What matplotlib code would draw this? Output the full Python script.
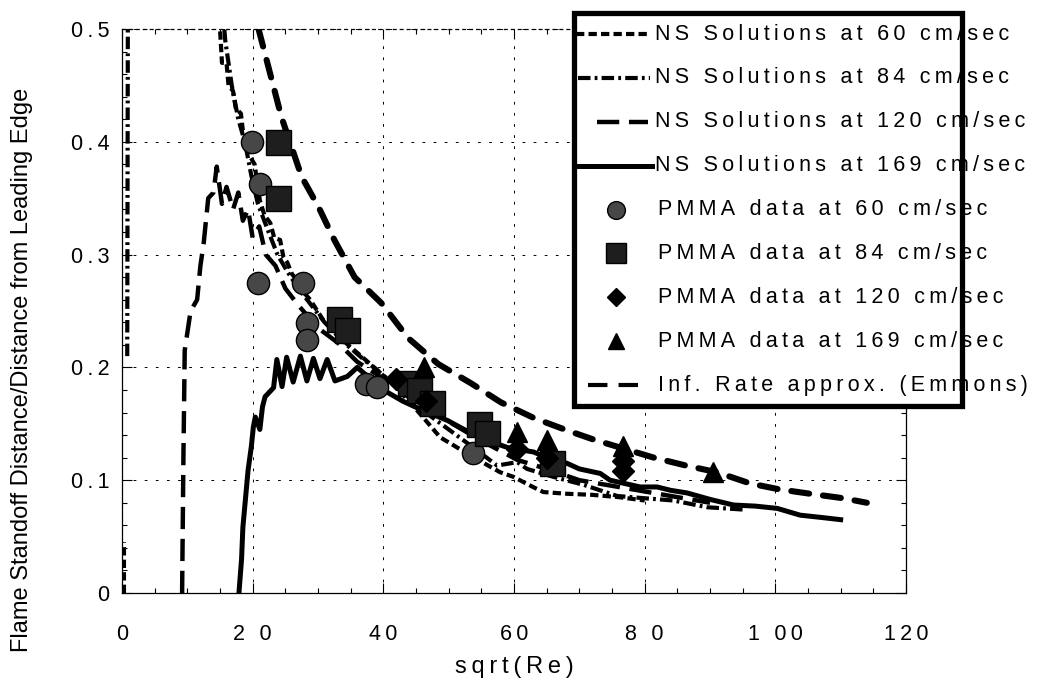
import numpy as np
import matplotlib
matplotlib.use("Agg")
from matplotlib import pyplot as plt
from matplotlib.lines import Line2D
from matplotlib.patches import Rectangle
from matplotlib.ticker import MultipleLocator

plt.rcParams['lines.scale_dashes'] = False
FONT = ['Liberation Sans', 'DejaVu Sans']

nan = np.nan

# NS solutions (sqrt(Re), standoff/x)
ns60_x = [0.3, 0.3, nan, 14.8, 15.0, 15.3, 16.0, 16.3, 17.0, 17.4, 18.2, 18.5, 19.2, 19.6, 20.3,
          20.8, 21.1, 21.8, 22.7, 23.3, 24.2, 24.7, 25.3, 26.0, 26.8, 27.6, 28.8, 30.8, 33.0,
          36.0, 39.0, 42.0, 45.0, 48.7, 51.3, 54.5, 57.9, 59.9, 62.9, 64.5, 68.0, 72.0, 76.0, 80.0]
ns60_y = [0.0, 0.045, nan, 0.52, 0.50, 0.47, 0.47, 0.45, 0.445, 0.43, 0.425, 0.41, 0.405, 0.387, 0.38,
          0.36, 0.348, 0.335, 0.328, 0.315, 0.313, 0.298, 0.293, 0.283, 0.277, 0.268, 0.26, 0.242, 0.228,
          0.213, 0.198, 0.182, 0.163, 0.138, 0.129, 0.118, 0.107, 0.103, 0.094, 0.0895, 0.088, 0.087, 0.085, 0.082]

ns84_x = [0.8, 0.9, nan, 15.4, 15.8, 16.8, 17.8, 18.8, 19.8, 20.8, 22.3, 23.8, 25.3, 27.0, 29.0,
          31.0, 34.0, 37.0, 40.0, 43.0, 46.0, 50.0, 54.0, 57.4, 60.5, 62.0, 66.0, 70.6, 75.8, 80.0,
          84.4, 89.6, 95.0]
ns84_y = [0.21, 0.52, nan, 0.52, 0.49, 0.45, 0.42, 0.40, 0.37, 0.345, 0.322, 0.30, 0.285, 0.27, 0.255,
          0.24, 0.222, 0.207, 0.193, 0.178, 0.162, 0.145, 0.128, 0.113, 0.116, 0.11, 0.103, 0.096, 0.086, 0.084,
          0.082, 0.076, 0.074]

ns120_x = [9.2, 9.4, 9.6, 10.5, 11.5, 12.0, 12.5, 13.2, 14.0, 14.5, 15.3, 16.0, 17.0, 17.8, 18.5,
           19.3, 20.0, 21.0, 22.0, 23.5, 25.0, 27.0, 30.0, 33.0, 36.0, 40.0, 45.0, 50.0, 55.0, 60.5,
           65.0, 70.0, 75.0, 80.0, 85.0, 90.0]
ns120_y = [0.0, 0.12, 0.215, 0.25, 0.26, 0.29, 0.31, 0.35, 0.355, 0.378, 0.345, 0.36, 0.34, 0.355, 0.33,
           0.34, 0.315, 0.325, 0.30, 0.29, 0.27, 0.255, 0.235, 0.222, 0.205, 0.19, 0.17, 0.152, 0.135, 0.118,
           0.11, 0.10, 0.095, 0.09, 0.085, 0.08]

ns169_x = [17.9, 18.3, 18.5, 19.0, 19.3, 19.8, 20.1, 20.4, 21.1, 21.5, 21.9, 23.2, 23.7, 24.5, 25.2,
           26.2, 27.3, 28.3, 29.3, 30.3, 31.4, 32.6, 34.5, 36.0, 38.0, 40.0, 43.0, 46.0, 49.8, 53.0,
           56.0, 59.0, 63.0, 65.0, 68.1, 70.0, 73.2, 74.7, 77.0, 79.3, 81.9, 84.0, 86.5, 90.0, 93.6,
           97.0, 100.3, 103.8, 107.0, 110.0]
ns169_y = [0.0, 0.03, 0.058, 0.09, 0.109, 0.13, 0.147, 0.156, 0.145, 0.165, 0.174, 0.182, 0.207, 0.183, 0.209,
           0.187, 0.21, 0.188, 0.208, 0.19, 0.207, 0.188, 0.192, 0.2, 0.19, 0.18, 0.17, 0.162, 0.153, 0.143,
           0.135, 0.129, 0.125, 0.12, 0.115, 0.11, 0.106, 0.1, 0.097, 0.094, 0.094, 0.091, 0.0887, 0.083, 0.078,
           0.077, 0.075, 0.069, 0.067, 0.065]

# Emmons infinite rate approximation
emm_x = [20.9, 24.4, 27.5, 30.1, 32.5, 35.6, 39.7, 43.8, 48.4, 53.4, 58.0, 63.1, 68.2, 72.2,
         81.4, 86.3, 91.1, 96.2, 100.5, 105.3, 110.4, 114.0]
emm_y = [0.5, 0.422, 0.369, 0.342, 0.313, 0.280, 0.257, 0.226, 0.203, 0.186, 0.169, 0.155, 0.144, 0.136,
         0.120, 0.113, 0.107, 0.097, 0.092, 0.088, 0.084, 0.080]

# PMMA data
pm60_x = [19.9, 21.1, 20.8, 27.7, 28.3, 28.3, 37.3, 39.0, 53.8]
pm60_y = [0.40, 0.363, 0.275, 0.275, 0.239, 0.224, 0.185, 0.183, 0.124]
pm84_x = [23.9, 23.9, 33.2, 34.5, 44.1, 45.5, 47.4, 54.6, 55.9, 65.8]
pm84_y = [0.40, 0.35, 0.243, 0.233, 0.186, 0.18, 0.168, 0.15, 0.142, 0.115]
pm120_x = [42.0, 46.5, 60.5, 65.1, 76.7, 76.7]
pm120_y = [0.19, 0.17, 0.128, 0.12, 0.117, 0.108]
pm169_x = [46.2, 60.5, 65.1, 76.7, 90.5]
pm169_y = [0.2, 0.143, 0.136, 0.13, 0.107]

legend_labels = ["NS Solutions at 60 cm/sec", "NS Solutions at 84 cm/sec",
                 "NS Solutions at 120 cm/sec", "NS Solutions at 169 cm/sec",
                 "PMMA data at 60 cm/sec", "PMMA data at 84 cm/sec",
                 "PMMA data at 120 cm/sec", "PMMA data at 169 cm/sec",
                 "Inf. Rate approx. (Emmons)"]


def spaced(s):
    return "\u2009".join(s)


W, H = 1042, 688
fig = plt.figure(figsize=(W / 100, H / 100), dpi=100)
ax = fig.add_axes([122 / W, 1 - 593 / H, (906 - 122) / W, (593 - 29) / H])

sty60 = dict(color="black", lw=3.0, linestyle=(0, (6, 3)))
sty84 = dict(color="black", lw=3.0, linestyle=(0, (9, 3, 2, 3)))
sty120 = dict(color="black", lw=3.2, linestyle=(0, (16, 7)))
sty169 = dict(color="black", lw=3.6, linestyle="-")
styemm = dict(color="black", lw=4.4, linestyle=(0, (13, 10)), solid_capstyle="round",
              dash_capstyle="round")

ax.plot(ns60_x, ns60_y, **sty60)
ax.plot(ns84_x, ns84_y, **sty84)
ax.plot(ns120_x, ns120_y, **sty120)
ax.plot(ns169_x, ns169_y, **sty169)
ax.plot(emm_x, emm_y, **styemm)

mk60 = dict(marker="o", ms=16, mfc="#474747", mec="black", mew=1.0, ls="none")
mk84 = dict(marker="s", ms=18, mfc="#1e1e1e", mec="black", ls="none")
mk120 = dict(marker="D", ms=11, mfc="black", mec="black", ls="none")
mk169 = dict(marker="^", ms=15, mfc="black", mec="black", ls="none")
ax.plot(pm60_x, pm60_y, **mk60)
ax.plot(pm84_x, pm84_y, **mk84)
ax.plot(pm120_x, pm120_y, **mk120)
ax.plot(pm169_x, pm169_y, **mk169)

ax.set_xlim(0, 120)
ax.set_ylim(0, 0.5)
ax.xaxis.set_major_locator(MultipleLocator(20))
ax.xaxis.set_minor_locator(MultipleLocator(5))
ax.yaxis.set_major_locator(MultipleLocator(0.1))
ax.yaxis.set_minor_locator(MultipleLocator(0.02))
ax.tick_params(which="both", direction="in", top=True, right=True, width=0.8)
ax.tick_params(which="major", length=7)
ax.tick_params(which="minor", length=3.5)
ax.tick_params(axis="x", which="major", pad=22)
ax.tick_params(axis="y", which="major", pad=9)
ax.grid(True, which="major", color="black", lw=0.7, linestyle=(0, (2, 6)))
for sp in ax.spines.values():
    sp.set_linewidth(0.9)
ax.spines["top"].set_linestyle((0, (2, 3)))

xt = ["0", "2 0", "40", "60", "8 0", "1 00", "120"]
yt = ["0", "0.1", "0.2", "0.3", "0.4", "0.5"]
ax.set_xticks(np.arange(0, 121, 20))
ax.set_xticklabels([spaced(t) for t in xt], fontsize=15.5, family=FONT)
ax.set_yticks(np.arange(0, 0.51, 0.1))
ax.set_yticklabels([spaced(t) for t in yt], fontsize=15.5, family=FONT)
ax.set_xlabel(spaced("sqrt(Re)"), fontsize=17, family=FONT, labelpad=8)
fig.text(22 / W, 1 - 370 / H, "Flame Standoff Distance/Distance from Leading Edge",
         rotation=90, ha="center", va="center", fontsize=17, family=FONT)

# legend box drawn by hand: the text runs over its right border
def fx(px):
    return px / W


def fy(py):
    return 1 - py / H


box_l, box_r, box_t, box_b = 574, 962, 13, 406
fig.patches.append(Rectangle((fx(box_l), fy(box_b)), fx(box_r) - fx(box_l), fy(box_t) - fy(box_b),
                             transform=fig.transFigure, facecolor="white", edgecolor="none", zorder=5))
rows = [34 + 43.9 * i for i in range(9)]
handle_spans = [(576, 650), (578, 650), (597, 648), (578, 652)]
line_styles = [sty60, sty84, sty120, sty169]
for i, (span, st) in enumerate(zip(handle_spans, line_styles)):
    fig.lines.append(Line2D([fx(span[0]), fx(span[1])], [fy(rows[i])] * 2,
                            transform=fig.transFigure, zorder=6, **st))
for i, mk in enumerate([mk60, mk84, mk120, mk169]):
    m = dict(mk)
    m["ms"] = m["ms"] * 0.8
    fig.lines.append(Line2D([fx(616)], [fy(rows[4 + i])], transform=fig.transFigure, zorder=6, **m))
fig.lines.append(Line2D([fx(588), fx(648)], [fy(rows[8])] * 2, transform=fig.transFigure, zorder=6,
                        color="black", lw=3.0, linestyle=(0, (14, 8))))
for i, lab in enumerate(legend_labels):
    x0 = 655 if i < 4 else 658
    fig.text(fx(x0), fy(rows[i]), spaced(lab), ha="left", va="center", fontsize=15.5,
             family=FONT, zorder=7)
fig.patches.append(Rectangle((fx(box_l), fy(box_b)), fx(box_r) - fx(box_l), fy(box_t) - fy(box_b),
                             transform=fig.transFigure, facecolor="none", edgecolor="black",
                             lw=3.8, zorder=8))

fig.savefig("out.png", dpi=100)
